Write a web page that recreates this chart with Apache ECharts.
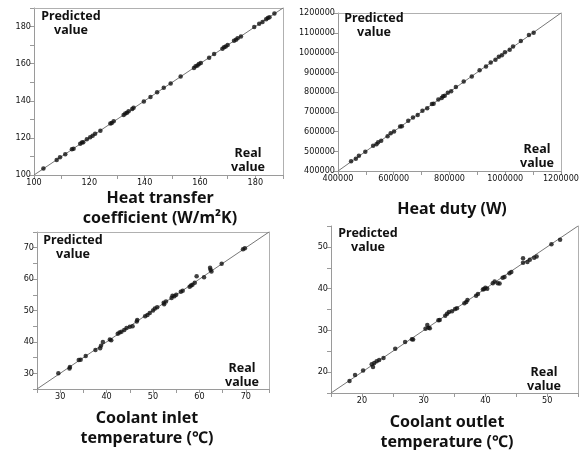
<!DOCTYPE html>
<html>
<head>
<meta charset="utf-8">
<script src="https://cdn.jsdelivr.net/npm/echarts@6/dist/echarts.min.js"></script>
<style>
  html, body { margin: 0; padding: 0; background: #fff; }
  #chart { width: 582px; height: 450px; }
</style>
</head>
<body>
<div id="chart"></div>
<script>
// heat transfer coefficient (W/m2K)
const htcReal = [103.4, 108.2, 109.4, 111.3, 113.7, 114.3, 116.7, 117.3, 117.8, 119.1, 120.3, 121.2, 122.1, 124.0, 127.6, 128.1, 128.8, 132.4, 133.0, 133.6, 134.2, 135.5, 136.0, 139.7, 142.1, 144.5, 146.9, 149.4, 153.0, 157.8, 158.4, 159.1, 159.6, 160.3, 163.3, 165.1, 168.1, 168.7, 169.3, 170.0, 172.3, 173.0, 173.6, 174.8, 179.6, 181.4, 182.6, 183.9, 184.5, 185.1, 186.9]
const htcPred = [103.5, 108.1, 109.5, 111.2, 113.9, 114.2, 116.8, 117.5, 117.7, 119.2, 120.4, 121.1, 122.2, 123.9, 127.8, 128.0, 128.9, 132.3, 133.2, 133.5, 134.3, 135.6, 136.2, 139.6, 142.0, 144.6, 147.0, 149.3, 153.1, 157.7, 158.6, 159.0, 159.8, 160.4, 163.2, 165.2, 168.0, 168.9, 169.2, 170.1, 172.4, 172.9, 173.7, 174.7, 179.7, 181.5, 182.5, 184.0, 184.6, 185.0, 187.0]

// heat duty (W)
const dutyReal = [447000, 464000, 475000, 498000, 526000, 538000, 544000, 555000, 578000, 589000, 601000, 623000, 629000, 652000, 669000, 686000, 703000, 720000, 737000, 743000, 760000, 772000, 777000, 783000, 794000, 806000, 823000, 851000, 880000, 908000, 931000, 948000, 965000, 977000, 988000, 999000, 1016000, 1028000, 1056000, 1085000, 1102000]
const dutyPred = [449000, 462000, 477000, 497000, 528000, 536000, 546000, 553000, 576000, 591000, 600000, 625000, 627000, 655000, 671000, 684000, 705000, 718000, 739000, 741000, 762000, 770000, 779000, 781000, 796000, 804000, 825000, 853000, 878000, 910000, 929000, 950000, 963000, 979000, 986000, 1001000, 1014000, 1030000, 1058000, 1088000, 1100000]

// coolant inlet temperature
const inletReal = [29.6, 32.0, 32.1, 34.0, 34.4, 35.5, 37.6, 38.6, 38.8, 39.2, 40.7, 41.0, 42.4, 42.8, 43.2, 43.8, 44.3, 45.0, 45.6, 46.5, 46.6, 48.3, 48.8, 49.3, 50.0, 50.4, 50.9, 52.3, 52.4, 52.8, 54.0, 54.2, 54.6, 55.0, 56.0, 56.4, 57.9, 58.2, 58.5, 59.0, 59.4, 61.0, 62.3, 62.4, 62.6, 64.8, 69.4, 69.8]
const inletPred = [30.0, 31.5, 32.0, 34.2, 34.3, 35.5, 37.4, 38.0, 38.8, 40.0, 40.8, 40.5, 42.6, 43.0, 43.2, 43.8, 44.4, 44.8, 45.0, 46.5, 47.0, 48.2, 48.6, 49.2, 50.0, 50.6, 51.0, 52.5, 52.0, 52.9, 54.0, 54.7, 54.5, 55.0, 56.0, 56.3, 57.6, 58.0, 58.2, 58.8, 60.9, 60.6, 63.6, 63.0, 62.4, 64.9, 69.5, 69.8]

// coolant outlet temperature
const outletReal = [18.0, 18.9, 20.2, 21.6, 21.8, 22.0, 22.4, 22.8, 23.5, 25.4, 27.0, 28.1, 28.3, 30.3, 30.6, 30.8, 31.0, 32.4, 32.6, 33.5, 33.8, 34.1, 34.6, 35.1, 35.4, 36.6, 36.9, 37.1, 38.5, 38.8, 39.6, 39.8, 40.0, 40.3, 41.2, 41.5, 42.0, 42.3, 42.8, 43.1, 43.9, 44.2, 46.1, 46.1, 46.8, 47.2, 47.9, 48.3, 50.7, 52.1]
const outletPred = [17.9, 19.3, 20.4, 21.9, 21.2, 22.2, 22.6, 22.9, 23.4, 25.6, 27.2, 27.9, 27.8, 30.4, 31.3, 30.6, 30.5, 32.4, 32.5, 33.5, 34.0, 34.4, 34.6, 35.1, 35.3, 36.5, 36.8, 37.3, 38.3, 38.7, 39.8, 39.9, 40.2, 40.0, 41.3, 41.7, 41.3, 41.2, 42.6, 42.8, 43.7, 44.0, 47.3, 46.2, 46.4, 46.9, 47.4, 47.7, 50.6, 51.7]

// panel axis ranges: [min, max, tick step, x label step, y label step]
const panelRanges = [
  [100, 190, 10, 20, 20],
  [400000, 1200000, 100000, 200000, 100000],
  [25, 75, 5, 10, 10],
  [15, 55, 5, 10, 10]
]

const panelTitles = [
  'Heat transfer\ncoefficient (W/m²K)',
  'Heat duty (W)',
  'Coolant inlet\ntemperature (℃)',
  'Coolant outlet\ntemperature (℃)'
]

const grids = [
  { left: 34, top: 8, width: 249, height: 167 },
  { left: 338, top: 13, width: 234, height: 158 },
  { left: 37, top: 232, width: 232, height: 157 },
  { left: 331, top: 226, width: 247, height: 167 }
]

const titlePos = [
  [160, 188], [452, 199], [147, 408], [447, 412]
]
const predPos = [[71, 9], [374, 11], [73, 233], [368, 226]]
const realPos = [[248, 146], [537, 142], [242, 361], [544, 365]]

const axisGray = '#9a9a9a'
const tickFont = { fontSize: 9, color: '#111', fontFamily: 'DejaVu Sans Condensed, DejaVu Sans, sans-serif' }

const pairs = (xs, ys) => xs.map((x, i) => [x, ys[i]])
const allData = [
  pairs(htcReal, htcPred),
  pairs(dutyReal, dutyPred),
  pairs(inletReal, inletPred),
  pairs(outletReal, outletPred)
]

const xAxes = []
const yAxes = []
const series = []

panelRanges.forEach((r, i) => {
  const [min, max, step, xLabelStep, yLabelStep] = r
  // the duty panel labels its max too
  const labelFmt = (labStep) => (v) =>
    (Math.abs(v % labStep) < 1e-6 && (v < max || i === 1)) ? String(v) : ''
  const base = {
    gridIndex: i, type: 'value', min, max, interval: step,
    splitLine: { show: false },
    axisLine: { lineStyle: { color: axisGray, width: 1 } },
    axisTick: { length: 4, lineStyle: { color: axisGray } }
  }
  xAxes.push(Object.assign({}, base, {
    position: 'bottom',
    axisLabel: Object.assign({ margin: 3, formatter: labelFmt(xLabelStep) }, tickFont)
  }))
  yAxes.push(Object.assign({}, base, {
    position: 'left',
    axisLabel: Object.assign({ margin: 3, formatter: labelFmt(yLabelStep) }, tickFont)
  }))
  // frame lines (top / right)
  const frame = {
    gridIndex: i, type: 'value', min, max,
    axisLabel: { show: false }, axisTick: { show: false }, splitLine: { show: false },
    axisLine: { show: true, lineStyle: { color: '#b0b0b0', width: 1 } }
  }
  xAxes.push(Object.assign({}, frame, { position: 'top', axisLine: { show: i !== 3, lineStyle: { color: '#b0b0b0' } } }))
  yAxes.push(Object.assign({}, frame, { position: 'right' }))

  // y = x reference line
  series.push({
    type: 'line',
    xAxisIndex: i * 2, yAxisIndex: i * 2,
    data: [[min, min], [max, max]],
    symbol: 'none',
    lineStyle: { color: '#777', width: 1 },
    silent: true, z: 1
  })
  series.push({
    type: 'scatter',
    xAxisIndex: i * 2, yAxisIndex: i * 2,
    data: allData[i],
    symbolSize: 4.5,
    itemStyle: { color: '#111' },
    z: 2
  })
})

const boldText = { fontFamily: 'Noto Sans, Noto Sans CJK KR, sans-serif', fontWeight: 'bold', color: '#111' }
const titles = []
panelTitles.forEach((t, i) => {
  titles.push({
    text: t, left: titlePos[i][0], top: titlePos[i][1], textAlign: 'center', padding: 0,
    textStyle: Object.assign({ fontSize: 16, lineHeight: 20 }, boldText)
  })
  titles.push({
    text: 'Predicted\nvalue', left: predPos[i][0], top: predPos[i][1], textAlign: 'center', padding: 0,
    textStyle: Object.assign({ fontSize: 12.5, lineHeight: 14 }, boldText)
  })
  titles.push({
    text: 'Real\nvalue', left: realPos[i][0], top: realPos[i][1], textAlign: 'center', padding: 0,
    textStyle: Object.assign({ fontSize: 12.5, lineHeight: 14 }, boldText)
  })
})

const chart = echarts.init(document.getElementById('chart'), null, { renderer: 'canvas' })
chart.setOption({
  animation: false,
  backgroundColor: '#fff',
  title: titles,
  grid: grids,
  xAxis: xAxes,
  yAxis: yAxes,
  series
})
</script>
</body>
</html>
